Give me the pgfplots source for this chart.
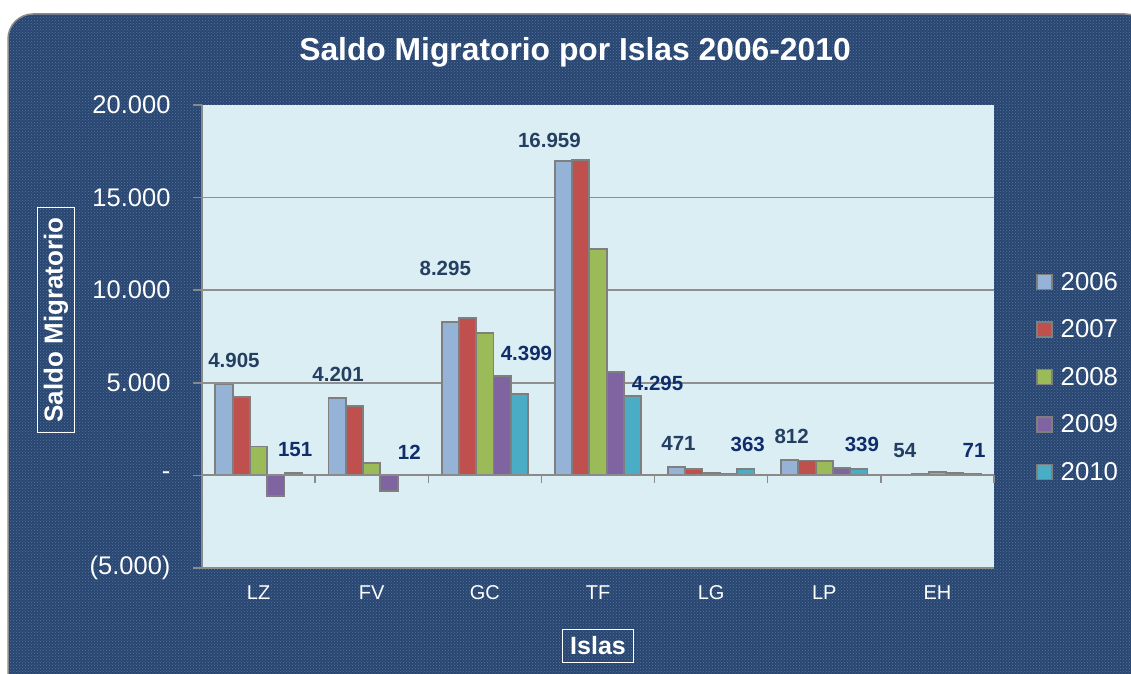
\documentclass[border=0pt]{standalone}
\usepackage{pgfplots}
\pgfplotsset{compat=1.18}
\usepackage{pgfplotstable}
\usetikzlibrary{patterns}
\usepackage{fontspec}
\setmainfont{Liberation Sans}
\definecolor{navy}{HTML}{284670}
\definecolor{navydot}{HTML}{5474A0}
\definecolor{framegray}{HTML}{8C8C8C}
\definecolor{plotbg}{HTML}{DBEEF4}
\definecolor{axisgray}{HTML}{8A8A8A}
\definecolor{gridgray}{HTML}{8F8F8F}
\definecolor{edgegray}{HTML}{7F7F7F}
\definecolor{cA}{HTML}{95B3D7}
\definecolor{cB}{HTML}{C0504D}
\definecolor{cC}{HTML}{9BBB59}
\definecolor{cD}{HTML}{8064A2}
\definecolor{cE}{HTML}{4BACC6}
\definecolor{labA}{HTML}{243F60}
\definecolor{labE}{HTML}{0F2C6B}

\pgfplotstableread{
x y dx dy lab
0 4905 10 24 4.905
1 4201 1 23 4.201
2 8295 -5 53 8.295
3 16959 -14 21 16.959
4 471 2 23 471
5 812 2 24 812
6 54 2 24 54
}\tA
\pgfplotstableread{
x y
0 4220
1 3750
2 8520
3 17020
4 340
5 800
6 90
}\tB
\pgfplotstableread{
x y
0 1560
1 660
2 7700
3 12220
4 130
5 770
6 190
}\tC
\pgfplotstableread{
x y
0 -1130
1 -860
2 5350
3 5590
4 60
5 380
6 150
}\tD
\pgfplotstableread{
x y dx dy lab
0 151 2 23 151
1 12 3 23 12
2 4399 7 40 4.399
3 4295 25 12 4.295
4 363 2 24 363
5 339 3 25 339
6 71 2 24 71
}\tE

\begin{document}
\begin{tikzpicture}
\clip (0pt,0pt) rectangle (1131pt,673pt);
\fill[white] (0pt,0pt) rectangle (1131pt,673pt);
\fill[navy, rounded corners=25pt] (8pt,-40pt) rectangle (1150pt,659pt);
\fill[pattern=crosshatch dots, pattern color=navydot, rounded corners=25pt] (8pt,-40pt) rectangle (1150pt,659pt);
\draw[line width=1.5pt, draw=framegray, rounded corners=25pt] (8pt,-40pt) rectangle (1150pt,659pt);
\node[text=white, font=\fontsize{31.8}{36}\selectfont\bfseries] at (575pt,621pt) {Saldo Migratorio por Islas 2006-2010};
\node[text=white, draw=white, line width=1.2pt, rotate=90, inner xsep=10pt, inner ysep=6pt, font=\fontsize{26}{30}\selectfont\bfseries] at (56pt,353pt) {Saldo Migratorio};
\node[text=white, draw=white, line width=1.2pt, inner xsep=8pt, inner ysep=7pt, font=\fontsize{25}{30}\selectfont\bfseries] at (598pt,27pt) {Islas};
\begin{axis}[
  at={(202pt,105pt)}, anchor=south west,
  scale only axis, width=792pt, height=463pt,
  xmin=-0.5, xmax=6.5, ymin=-5000, ymax=20000,
  scaled y ticks=false,
  ybar=0pt, bar width=17.3pt,
  axis background/.style={fill=plotbg},
  axis x line*=bottom, axis y line*=left,
  axis line style={draw=axisgray, line width=1.5pt},
  xtick={0,...,6}, xticklabels={LZ,FV,GC,TF,LG,LP,EH},
  x tick style={draw=none},
  ytick={-5000,0,5000,10000,15000,20000},
  yticklabels={(5.000),-,5.000,10.000,15.000,20.000},
  tick align=outside,
  y tick style={draw=axisgray, line width=1.5pt},
  major tick length=9pt,
  extra y ticks={5000,10000,15000},
  extra y tick labels={},
  extra y tick style={grid=major, major tick length=0pt},
  grid style={draw=gridgray, line width=1.5pt},
  yticklabel style={font=\fontsize{25.5}{30}\selectfont, text=white, xshift=-19pt},
  xticklabel style={font=\fontsize{20}{24}\selectfont, text=white, yshift=-5pt},
  legend style={at={(1.053,0.4125)}, anchor=west, draw=none, fill=none,
    text=white, font=\fontsize{25.8}{30}\selectfont,
    row sep=24pt, inner sep=0pt},
  legend cell align=left,
  legend image code/.code={\draw[#1, draw=edgegray, line width=1.5pt] (0pt,-7.5pt) rectangle (15pt,7.5pt);},
  /tikz/every odd column/.append style={column sep=6pt},
  every axis plot/.append style={draw=edgegray, line width=1.8pt},
  clip=false,
]
\addplot[fill=cA, nodes near coords, point meta=explicit symbolic,
  visualization depends on={\thisrow{dx} \as \dx},
  visualization depends on={\thisrow{dy} \as \dy},
  every node near coord/.append style={anchor=center, xshift=\dx pt, yshift=\dy pt, text=labA, font=\fontsize{20.5}{24}\selectfont\bfseries}]
  table[x=x, y=y, meta=lab] {\tA};
\addplot[fill=cB] table[x=x, y=y] {\tB};
\addplot[fill=cC] table[x=x, y=y] {\tC};
\addplot[fill=cD] table[x=x, y=y] {\tD};
\addplot[fill=cE, nodes near coords, point meta=explicit symbolic,
  visualization depends on={\thisrow{dx} \as \dx},
  visualization depends on={\thisrow{dy} \as \dy},
  every node near coord/.append style={anchor=center, xshift=\dx pt, yshift=\dy pt, text=labE, font=\fontsize{20.5}{24}\selectfont\bfseries}]
  table[x=x, y=y, meta=lab] {\tE};
\legend{2006,2007,2008,2009,2010}
\draw[axisgray, line width=2pt] (axis cs:-0.5,0) -- (axis cs:6.5,0);
\pgfplotsinvokeforeach{-0.5,0.5,1.5,2.5,3.5,4.5,5.5,6.5}{
  \draw[axisgray, line width=1.5pt] (axis cs:#1,0) -- ++(0pt,-8pt);
}
\end{axis}
\end{tikzpicture}
\end{document}
